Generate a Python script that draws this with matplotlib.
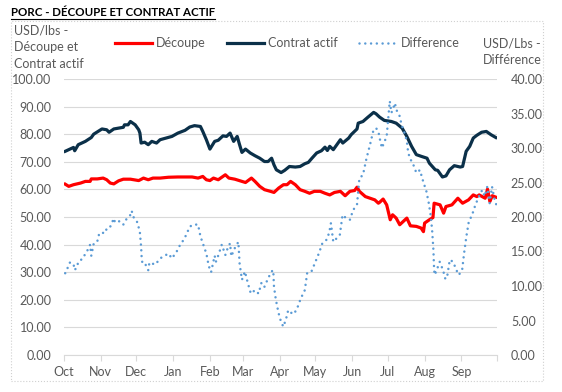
import pandas as pd
import matplotlib
matplotlib.use("Agg")
import matplotlib.pyplot as plt
from matplotlib.patches import Rectangle
from matplotlib.lines import Line2D

# Data (days counted from 1 Oct)
start = pd.Timestamp("2022-10-01")
months = ["Oct", "Nov", "Dec", "Jan", "Feb", "Mar", "Apr", "May", "Jun", "Jul", "Aug", "Sep"]

decoupe_days = [1, 4, 8, 14, 18, 22, 23, 28, 33, 36, 39, 42, 46, 50, 56, 63, 67, 71, 75, 81, 88,
                96, 108, 113, 117, 120, 123, 126, 130, 136, 139, 144, 150, 153, 158, 161, 165, 169,
                174, 177, 181, 185, 188, 191, 195, 199, 203, 207, 211, 216, 220, 224, 228, 233, 237,
                241, 245, 247, 249, 254, 258, 262, 265, 266, 269, 272, 275, 277, 280, 283, 286, 289,
                292, 297, 301, 303, 304, 308, 311, 312, 317, 320, 322, 327, 332, 336, 341, 345, 348,
                350, 355, 357, 359, 361, 364]
decoupe = [61.9, 61.1, 61.7, 62.3, 62.9, 62.9, 63.8, 63.8, 64.1, 63.5, 62.3, 62.0, 63.1, 63.7, 63.7,
           63.2, 64.1, 63.5, 64.1, 64.1, 64.4,
           64.5, 64.5, 64.1, 64.7, 63.5, 63.2, 64.1, 63.5, 65.3, 64.1, 63.7, 62.9, 62.5, 64.1, 62.9,
           61.1, 59.9, 59.3, 58.9, 60.5, 61.7, 61.7, 62.9, 61.7, 59.9, 59.3, 58.6, 59.3, 59.3, 58.6,
           58.0, 58.9, 59.3, 57.7, 59.3, 59.6, 60.8, 59.3, 57.4, 56.8, 56.2, 55.0, 55.3, 56.5, 54.4,
           49.0, 50.8, 49.6, 47.2, 48.4, 49.6, 46.8, 46.6, 46.0, 44.7, 47.8, 49.0, 49.8, 55.0, 54.4,
           51.4, 53.8, 54.4, 56.8, 55.0, 56.2, 58.0, 57.4, 58.0, 56.8, 60.1, 55.6, 57.7, 57.2]

contrat_days = [1, 8, 9, 12, 18, 23, 25, 32, 36, 38, 42, 46, 50, 51, 54, 56, 60, 63, 64, 65, 68, 71,
                74, 78, 81, 86, 91, 96, 102, 106, 110, 115, 117, 120, 123, 127, 130, 134, 137, 140,
                143, 146, 148, 150, 153, 157, 161, 165, 169, 172, 175, 177, 179, 183, 186, 190, 195,
                199, 203, 206, 209, 213, 217, 220, 222, 224, 227, 230, 233, 235, 240, 242, 247, 248,
                252, 256, 261, 263, 266, 270, 276, 280, 285, 289, 293, 297, 301, 306, 308, 313, 315,
                319, 322, 325, 329, 334, 336, 339, 342, 345, 348, 352, 356, 360, 364]
contrat = [73.8, 75.2, 74.0, 76.2, 77.4, 78.8, 80.0, 81.9, 81.6, 80.7, 81.9, 82.2, 82.5, 83.4, 83.4,
           84.6, 83.4, 81.6, 80.4, 76.8, 77.1, 76.2, 77.4, 76.8, 78.0, 78.6, 79.2, 80.4, 81.4, 82.6,
           83.1, 82.8, 81.0, 78.0, 74.6, 77.4, 77.8, 79.4, 79.2, 80.4, 77.4, 79.2, 76.2, 73.4, 74.6,
           73.2, 72.2, 71.3, 70.1, 70.1, 71.3, 68.9, 67.1, 66.1, 66.9, 68.3, 68.1, 68.3, 69.3, 69.8,
           71.3, 73.2, 74.0, 75.3, 74.1, 75.6, 74.4, 76.2, 78.0, 76.8, 78.6, 79.8, 81.9, 84.0, 84.6,
           86.1, 87.9, 87.4, 86.2, 85.0, 84.6, 84.0, 82.2, 79.2, 75.6, 72.6, 72.0, 71.3, 69.5, 67.1,
           66.9, 64.5, 64.9, 67.1, 68.6, 68.1, 68.3, 73.8, 75.6, 78.6, 79.6, 80.7, 81.0, 79.8, 78.8]

diff_days = [1, 3, 5, 8, 9, 11, 12, 16, 18, 21, 22, 23, 25, 28, 29, 30, 35, 36, 39, 42, 43, 47, 50,
             53, 56, 57, 59, 62, 64, 65, 65.4, 66, 68, 70, 71, 72, 77, 81, 85, 88, 91, 95, 98, 100.5,
             103, 106, 109, 113, 115, 117, 120, 122, 124, 127, 128, 130, 133, 136, 138, 140, 141,
             144, 147, 148, 150, 152.5, 155, 157.5, 161, 164, 166.5, 169, 172, 175, 176.4, 177,
             178.6, 180.6, 182, 184.8, 187, 189, 193, 196, 199.6, 203, 205, 208.6, 211.4, 215,
             217.8, 221.3, 223.5, 225, 227, 229.7, 232.5, 234.8, 238, 241, 243.7, 247, 249, 252, 255,
             258, 260.6, 263, 265, 266, 268, 272, 273, 274.6, 276, 279, 280, 283, 284.5, 287, 289,
             290, 291.5, 294, 297, 300, 302.7, 305.5, 307.5, 309.2, 310.3, 311.4, 312, 312.5, 314.8,
             316.7, 319.5, 321.5, 323.2, 325.2, 328, 330.8, 332.8, 335.6, 337.3, 339.2, 341.2, 344,
             346.3, 349, 352.5, 354.6, 356.8, 358.8, 360.8, 363, 365]
difference = [11.85, 12.6, 13.4, 13.2, 12.3, 12.8, 13.5, 14.0, 14.7, 15.5, 16.0, 14.4, 16.1, 16.4,
              17.2, 17.7, 17.7, 18.4, 18.6, 19.8, 19.2, 19.4, 18.9, 19.8, 20.3, 20.9, 19.8, 19.2,
              17.7, 15.7, 14.3, 13.4, 13.4, 12.6, 12.3, 13.4, 13.1, 14.0, 14.4, 14.7, 14.0, 15.0,
              16.0, 16.6, 17.4, 18.6, 18.9, 18.9, 17.2, 16.2, 14.7, 12.9, 12.0, 14.4, 13.5, 14.4,
              16.0, 14.5, 15.5, 16.2, 14.3, 15.5, 16.4, 13.3, 10.9, 12.1, 10.4, 8.9, 9.4, 8.9, 10.5,
              9.9, 11.1, 12.1, 12.3, 9.9, 8.0, 6.3, 5.3, 4.1, 5.1, 6.5, 5.9, 6.5, 8.2, 9.4, 11.9,
              12.1, 13.3, 14.8, 16.2, 16.7, 17.7, 19.1, 16.4, 16.9, 17.4, 20.3, 19.8, 19.6, 21.0,
              21.8, 25.6, 26.1, 28.5, 30.5, 32.4, 32.9, 32.4, 31.5, 30.0, 31.7, 33.6, 36.8, 35.1,
              36.5, 35.6, 34.6, 33.4, 32.2, 31.0, 29.5, 28.5, 27.8, 26.4, 26.8, 25.2, 23.7, 22.0,
              20.1, 18.1, 15.2, 12.3, 11.6, 12.6, 13.5, 12.3, 11.0, 11.6, 13.8, 13.5, 12.3, 11.6,
              12.3, 14.8, 17.2, 19.3, 20.3, 21.5, 22.7, 23.9, 23.0, 24.4, 22.0, 24.4, 22.5, 21.5]


def to_dates(days):
    return start + pd.to_timedelta(days, unit="D")


plt.rcParams['font.family'] = ['Lato', 'DejaVu Sans']
grey = '#595959'

fig = plt.figure(figsize=(5.62, 3.92), dpi=100)
ax = fig.add_axes([64 / 562, 37 / 392, 433 / 562, 276 / 392])
ax2 = ax.twinx()

l1, = ax.plot(to_dates(decoupe_days), decoupe, color='#FF0000', lw=2.3, label='Découpe',
              solid_joinstyle='round')
l2, = ax.plot(to_dates(contrat_days), contrat, color='#0B3049', lw=2.3, label='Contrat actif',
              solid_joinstyle='round')
l3, = ax2.plot(to_dates(diff_days), difference, color='#5B9BD5', lw=1.8, label='Difference',
               linestyle=(0, (0.01, 2.3)), dash_capstyle='round')

ax.set_xlim(start, start + pd.Timedelta(days=365))
ax.set_ylim(0, 100)
ax2.set_ylim(0, 40)

ticks = pd.date_range(start, start + pd.Timedelta(days=365), freq='MS')
ax.set_xticks(ticks)
ax.set_xticklabels(months + [''])
ax.set_yticks(range(0, 101, 10))
ax.set_yticklabels([f"{v:.2f}" for v in range(0, 101, 10)])
ax2.set_yticks(range(0, 41, 5))
ax2.set_yticklabels([f"{v:.2f}" for v in range(0, 41, 5)])

ax.yaxis.grid(True, color='#D9D9D9', lw=0.8)
ax.set_axisbelow(True)
for s in ['top', 'left', 'right']:
    ax.spines[s].set_visible(False)
ax.spines['bottom'].set_color('#D9D9D9')
for s in ax2.spines.values():
    s.set_visible(False)

ax.tick_params(axis='x', length=4, color='#D9D9D9', labelcolor=grey, labelsize=9, pad=4)
ax.tick_params(axis='y', length=0, labelcolor=grey, labelsize=9, pad=9)
ax2.tick_params(axis='y', length=0, labelcolor=grey, labelsize=9, pad=10)

fig.legend(handles=[l1, l2, l3], loc='center', bbox_to_anchor=(287 / 562, 1 - 43 / 392),
           ncol=3, frameon=False, fontsize=9, labelcolor=grey, handlelength=3.0,
           columnspacing=1.7, handletextpad=0.3)

fig.text(14 / 562, 1 - 47 / 392, "USD/lbs -\nDécoupe et\nContrat actif", color=grey,
         fontsize=9, ha='left', va='center', linespacing=1.45)
fig.text(512 / 562, 1 - 52 / 392, "USD/Lbs -\nDifférence", color=grey, fontsize=9,
         ha='center', va='center', multialignment='center', linespacing=1.45)

title = fig.text(11 / 562, 1 - 13 / 392, "PORC - DÉCOUPE ET CONTRAT ACTIF", color='black',
                 fontsize=8.3, ha='left', va='center', fontweight='bold')

# chart area border
fig.patches.append(Rectangle((11 / 562, 1 - 381 / 392), 532 / 562, 360 / 392,
                             transform=fig.transFigure, fill=False, ls=':', lw=0.8,
                             color='#D0D0D0'))

# underline for title
fig.canvas.draw()
bb = title.get_window_extent()
inv = fig.transFigure.inverted()
(x0, y0), (x1, _) = inv.transform([(bb.x0, bb.y0), (bb.x1, bb.y0)])
fig.lines.append(Line2D([x0, x1], [y0 - 0.002, y0 - 0.002], transform=fig.transFigure,
                        color='black', lw=0.8))

fig.savefig("out.png", dpi=100)
